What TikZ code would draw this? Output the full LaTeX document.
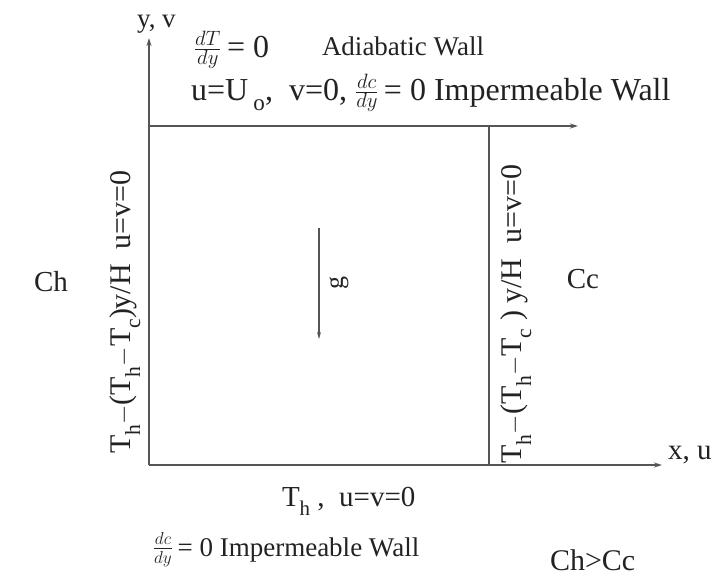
\documentclass[tikz,border=0pt]{standalone}
\usepackage{fontspec}
\usepackage{graphicx}
\setmainfont{Liberation Serif}
\usetikzlibrary{arrows.meta}
\newcommand\sbx[1]{\raisebox{-0.32em}{\scalebox{0.72}{#1}}}
\newcommand\fsz[1]{\fontsize{#1}{#1}\selectfont}
\newcommand\myfrac[2]{\raisebox{0.05em}{$\frac{#1}{#2}$}\,}
\definecolor{ink}{HTML}{222222}
\definecolor{linec}{HTML}{555555}
\tikzset{
  wall/.style={draw=linec, line width=1.3pt},
  axis/.style={draw=linec, line width=1.3pt, -{Stealth[length=8pt,width=5pt]}},
  lbl/.style={text=ink, inner sep=0pt, outer sep=0pt},
}
\begin{document}
\begin{tikzpicture}[x=1pt,y=-1pt]
\useasboundingbox (0,0) rectangle (718,579);
% coordinates
\coordinate (O) at (149,465);
\coordinate (Ytip) at (149,38);
\coordinate (Xtip) at (662,465);
\coordinate (TL) at (149,126);
\coordinate (Ttip) at (578,126);
\coordinate (RWt) at (489,126);
\coordinate (RWb) at (489,465);
\coordinate (Gs) at (319,228);
\coordinate (Ge) at (319,339);
% lines
\draw[axis] (O) -- (Ytip);
\draw[axis] (O) -- (Xtip);
\draw[axis] (TL) -- (Ttip);
\draw[wall] (RWt) -- (RWb);
\draw[draw=linec, line width=1.2pt, -{Stealth[length=7pt,width=4pt]}] (Gs) -- (Ge);
% labels
\node[lbl, anchor=base west, font=\fsz{27}] (yv) at (137,27) {y, v};
\node[lbl, anchor=base west, font=\fsz{32}] (dT) at (194,57) {\myfrac{dT}{dy}= 0};
\node[lbl, anchor=base west, font=\fsz{27}] (adia) at (322,55) {Adiabatic Wall};
\node[lbl, anchor=base west, font=\fsz{32}] (top2) at (191,100) {u=U\,\sbx{o}, \ v=0, \myfrac{dc}{dy}= 0 Impermeable Wall};
\node[lbl, font=\fsz{29}] (Ch) at (51,282) {Ch};
\node[lbl, font=\fsz{29}] (Cc) at (583,279) {Cc};
\node[lbl, rotate=90, font=\fsz{26}] (g) at (339,283) {g};
\node[lbl, rotate=90, font=\fsz{30}] (lw) at (125,312) {T\sbx{h}$-$(T\sbx{h}$-$T\sbx{c})y/H \ u=v=0};
\node[lbl, rotate=90, font=\fsz{30}] (rw) at (516,314) {T\sbx{h}$-$(T\sbx{h}$-$T\sbx{c} ) y/H \ u=v=0};
\node[lbl, anchor=base west, font=\fsz{29}] (xu) at (668,459) {x, u};
\node[lbl, anchor=base west, font=\fsz{29}] (bot1) at (282,506) {T\sbx{h} , \ u=v=0};
\node[lbl, anchor=base west, font=\fsz{27}] (bot2) at (153,556) {\myfrac{dc}{dy}= 0 Impermeable Wall};
\node[lbl, anchor=base west, font=\fsz{30}] (chcc) at (550,570) {Ch>Cc};
\end{tikzpicture}
\end{document}
